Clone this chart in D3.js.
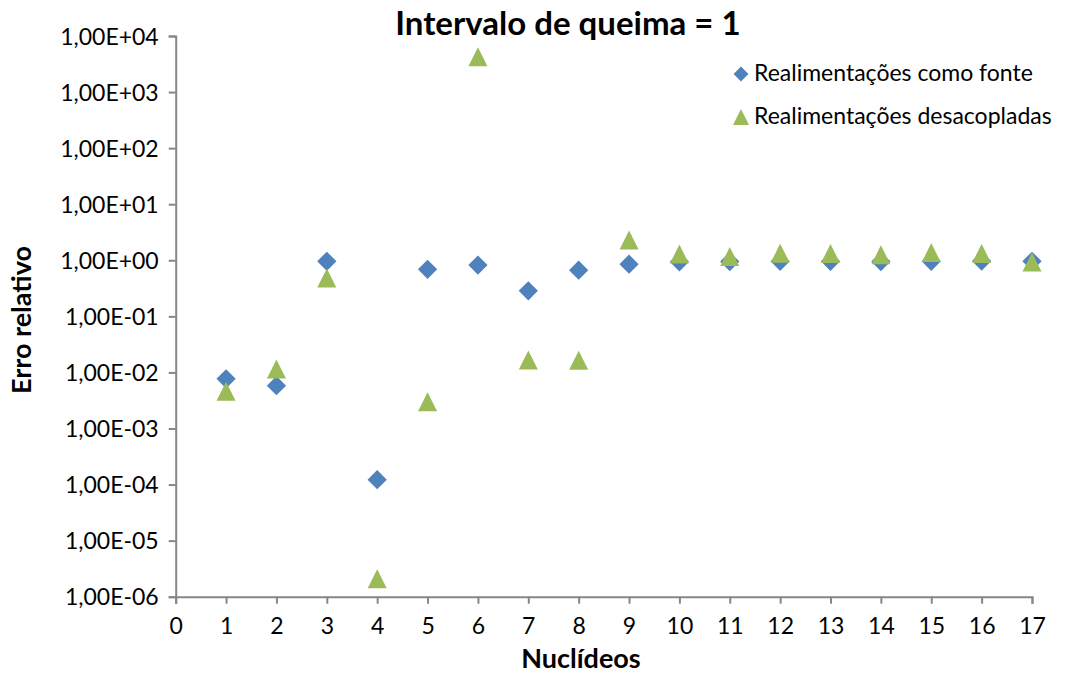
<!DOCTYPE html>
<html>
<head>
<meta charset="utf-8">
<script src="https://cdn.jsdelivr.net/npm/d3@7"></script>
<style>
  html, body { margin: 0; padding: 0; background: #fff; }
  svg { display: block; font-family: Lato, "Open Sans", sans-serif; }
</style>
</head>
<body>
<svg id="chart" width="1065" height="674"></svg>
<script>
// Nuclide indices on the horizontal axis
const nuclides = [1, 2, 3, 4, 5, 6, 7, 8, 9, 10, 11, 12, 13, 14, 15, 16, 17];

// Relative error, feedback treated as a source
const errSource = [0.0077, 0.0058, 0.96, 1.22e-4, 0.69, 0.82, 0.285, 0.665, 0.85,
                   0.94, 0.95, 0.96, 0.96, 0.95, 0.96, 0.97, 0.96];

// Relative error, decoupled feedback
const errDecoupled = [0.0046, 0.0115, 0.485, 2.1e-6, 0.0030, 4280, 0.0166, 0.0165, 2.31,
                      1.29, 1.17, 1.34, 1.32, 1.25, 1.37, 1.32, 0.93];

// Axis ticks
const xTicks = d3.range(0, 18);
const yTicks = [1e-6, 1e-5, 1e-4, 1e-3, 1e-2, 1e-1, 1e0, 1e1, 1e2, 1e3, 1e4];

const seriesNames = ["Realimentações como fonte", "Realimentações desacopladas"];
const blue = "#4F81BD", green = "#9BBB59", axisGray = "#868686";

const svg = d3.select("#chart");

const x = d3.scaleLinear().domain([0, 17]).range([175.7, 1032]);
const y = d3.scaleLog().domain([1e-6, 1e4]).range([596.7, 36]);

// Scientific label with a comma decimal separator: 1,00E+04
function sci(v) {
  const e = Math.round(Math.log10(v));
  const sign = e < 0 ? "-" : "+";
  return "1,00E" + sign + String(Math.abs(e)).padStart(2, "0");
}

// Y axis
const yAxis = svg.append("g")
  .attr("transform", `translate(${x(0)},0)`)
  .call(d3.axisLeft(y).tickValues(yTicks).tickFormat(sci).tickSize(7).tickPadding(10));
yAxis.select(".domain").attr("stroke", axisGray).attr("stroke-width", 2);
yAxis.selectAll(".tick line").attr("stroke", axisGray).attr("stroke-width", 2);
yAxis.selectAll(".tick text")
  .attr("fill", "#000").attr("font-size", 23).attr("font-family", "Lato, sans-serif")
  .attr("dy", "0.36em");

// X axis
const xAxis = svg.append("g")
  .attr("transform", `translate(0,${y(1e-6)})`)
  .call(d3.axisBottom(x).tickValues(xTicks).tickFormat(d3.format("d")).tickSize(7).tickPadding(14));
xAxis.select(".domain").attr("stroke", axisGray).attr("stroke-width", 2);
xAxis.selectAll(".tick line").attr("stroke", axisGray).attr("stroke-width", 2);
xAxis.selectAll(".tick text")
  .attr("fill", "#000").attr("font-size", 23).attr("font-family", "Lato, sans-serif");

// Markers
const diamond = d3.symbol().type(d3.symbolSquare).size(185);
function trianglePath(cx, cy, s) {
  const h = s / 2;
  return `M${cx},${cy - h}L${cx + h},${cy + h}L${cx - h},${cy + h}Z`;
}

svg.append("g").selectAll("path")
  .data(nuclides.map((n, i) => ({ n, v: errSource[i] })))
  .join("path")
  .attr("d", diamond)
  .attr("transform", d => `translate(${x(d.n)},${y(d.v)}) rotate(45)`)
  .attr("fill", blue);

svg.append("g").selectAll("path")
  .data(nuclides.map((n, i) => ({ n, v: errDecoupled[i] })))
  .join("path")
  .attr("d", d => trianglePath(x(d.n), y(d.v), 19))
  .attr("fill", green);

// Title
svg.append("text")
  .attr("x", 568).attr("y", 35)
  .attr("text-anchor", "middle")
  .attr("font-size", 33).attr("font-weight", "bold")
  .text("Intervalo de queima = 1");

// Axis titles
svg.append("text")
  .attr("x", 581).attr("y", 668)
  .attr("text-anchor", "middle")
  .attr("font-size", 27).attr("font-weight", "bold")
  .text("Nuclídeos");

svg.append("text")
  .attr("transform", "translate(31,320) rotate(-90)")
  .attr("text-anchor", "middle")
  .attr("font-size", 27).attr("font-weight", "bold")
  .text("Erro relativo");

// Legend
const legend = svg.append("g");
legend.append("path")
  .attr("d", d3.symbol().type(d3.symbolSquare).size(110))
  .attr("transform", "translate(741,74) rotate(45)")
  .attr("fill", blue);
legend.append("path")
  .attr("d", trianglePath(741, 117, 16))
  .attr("fill", green);
legend.selectAll("text")
  .data(seriesNames)
  .join("text")
  .attr("x", 754)
  .attr("y", (d, i) => 81 + i * 43)
  .attr("font-size", 23)
  .text(d => d);
</script>
</body>
</html>
